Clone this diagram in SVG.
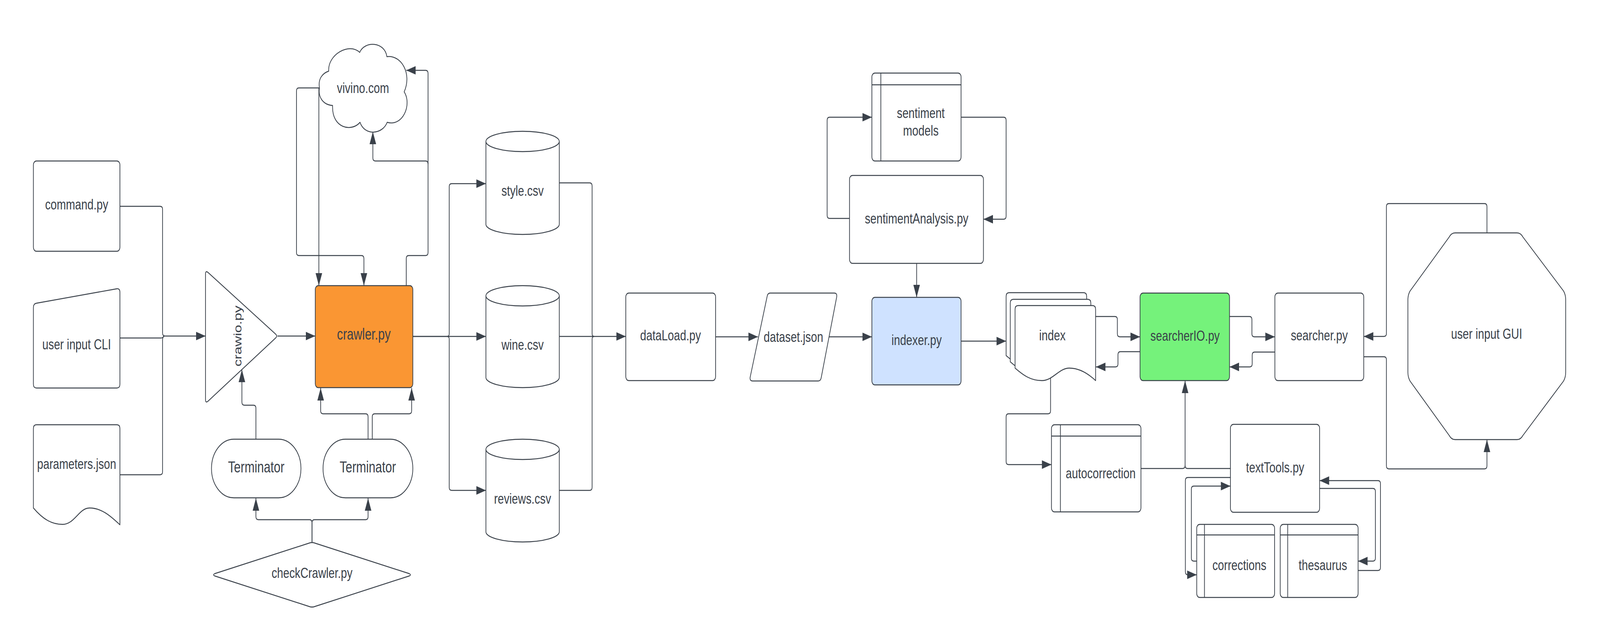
<svg xmlns="http://www.w3.org/2000/svg" width="5364" height="1643" viewBox="0 0 5364 1643" preserveAspectRatio="none">
<defs>
<style>
svg{width:100vw;height:100vh}
.n{fill:#ffffff;stroke:#3a414a;stroke-width:2.4;stroke-linejoin:round}
.l{fill:none;stroke:#3a414a;stroke-width:2.4}
.c{fill:none;stroke:#3a414a;stroke-width:2.4;stroke-linejoin:round}
.a{marker-end:url(#ah)}
text{font-family:"Liberation Sans",Arial,sans-serif;font-size:37px;fill:#3a414a;text-anchor:middle;dominant-baseline:central}
.big{font-size:40px}
</style>
<marker id="ah" markerUnits="userSpaceOnUse" markerWidth="34" markerHeight="24" refX="32" refY="11" orient="auto">
<path d="M0,0 L32,11 L0,22 Z" fill="#3a414a"/>
</marker>
</defs>
<rect width="5364" height="1643" fill="#ffffff"/>

<g id="connectors">
<path class="c a" d="M402,528 H537 Q545,528 545,536 V852 Q545,860 553,860 H689"/>
<path class="c" d="M402,865 H540 Q546,865 549,860"/>
<path class="c" d="M402,1215 H537 Q545,1215 545,1207 V870 Q545,862 551,860"/>
<path class="c a" d="M930,860 H1057"/>
<path class="c a" d="M858,1124 V1045 Q858,1037 850,1037 H819 Q811,1037 811,1029 V946"/>
<path class="c a" d="M1234,1124 V1067 Q1234,1059 1226,1059 H1083 Q1075,1059 1075,1051 V993"/>
<path class="c a" d="M1248,1124 V1067 Q1248,1059 1256,1059 H1372 Q1380,1059 1380,1051 V993"/>
<path class="c a" d="M1046,1388 V1338 Q1046,1330 1038,1330 H866 Q858,1330 858,1322 V1275"/>
<path class="c a" d="M1046,1388 V1338 Q1046,1330 1054,1330 H1226 Q1234,1330 1234,1322 V1275"/>
<path class="c a" d="M1071,225 H1002 Q994,225 994,233 V646 Q994,654 1002,654 H1212 Q1220,654 1220,662 V731"/>
<path class="c a" d="M1069,225 V731"/>
<path class="c a" d="M1362,731 V662 Q1362,654 1370,654 H1427 Q1435,654 1435,646 V188 Q1435,180 1427,180 H1362"/>
<path class="c a" d="M1435,420 Q1435,412 1427,412 H1258 Q1250,412 1250,404 V337"/>
<path class="c a" d="M1384,861 H1499 Q1506,861 1506,854 V478 Q1506,470 1514,470 H1629"/>
<path class="c a" d="M1384,861 H1629"/>
<path class="c a" d="M1499,861 Q1506,861 1506,868 V1247 Q1506,1255 1514,1255 H1629"/>
<path class="c a" d="M1875,468 H1977 Q1985,468 1985,476 V854 Q1985,861 1992,861 H2098"/>
<path class="c" d="M1875,861 H1992"/>
<path class="c" d="M1875,1255 H1977 Q1985,1255 1985,1247 V868 Q1985,861 1992,861"/>
<path class="c a" d="M2399,862 H2541"/>
<path class="c a" d="M2779,862 H2923"/>
<path class="c a" d="M3222,873 H3373"/>
<path class="c a" d="M3073,674 V761"/>
<path class="c a" d="M2848,559 H2781 Q2773,559 2773,551 V308 Q2773,300 2781,300 H2923"/>
<path class="c a" d="M3222,300 H3365 Q3373,300 3373,308 V553 Q3373,561 3365,561 H3297"/>
<path class="c a" d="M3673,810 H3738 Q3746,810 3746,818 V854 Q3746,862 3754,862 H3822"/>
<path class="c a" d="M3822,900 H3756 Q3748,900 3748,908 V931 Q3748,939 3740,939 H3674"/>
<path class="c a" d="M4122,810 H4189 Q4197,810 4197,818 V854 Q4197,862 4205,862 H4274"/>
<path class="c a" d="M4274,901 H4206 Q4198,901 4198,909 V931 Q4198,939 4190,939 H4122"/>
<path class="c a" d="M3522,967 V1051 Q3522,1059 3514,1059 H3381 Q3373,1059 3373,1067 V1181 Q3373,1189 3381,1189 H3525"/>
<path class="c a" d="M3825,1199 H3965 Q3973,1199 3973,1191 V974"/>
<path class="c" d="M4125,1199 H3981 Q3973,1199 3973,1191"/>
<path class="c a" d="M4125,1222 H3982 Q3974,1222 3974,1230 V1463 Q3974,1471 3982,1471 H4012"/>
<path class="c a" d="M4012,1436 H4002 Q3994,1436 3994,1428 V1252 Q3994,1244 4002,1244 H4125"/>
<path class="c a" d="M4424,1250 H4603 Q4611,1250 4611,1258 V1428 Q4611,1436 4603,1436 H4553"/>
<path class="c a" d="M4553,1460 H4620 Q4628,1460 4628,1452 V1238 Q4628,1230 4620,1230 H4424"/>
<path class="c a" d="M4985,596 V529 Q4985,521 4977,521 H4656 Q4648,521 4648,529 V853 Q4648,861 4640,861 H4572"/>
<path class="c a" d="M4572,913 H4640 Q4648,913 4648,921 V1192 Q4648,1200 4656,1200 H4977 Q4985,1200 4985,1192 V1125"/>
</g>

<g id="command">
<rect class="n" x="112" y="412" width="290" height="231" rx="10"/>
<text x="257" y="523">command.py</text>
</g>
<g id="user-input-cli">
<path class="n" d="M112,787 Q112,777 122,776 L392,739 Q402,738 402,748 V983 Q402,993 392,993 H122 Q112,993 112,983 Z"/>
<text x="257" y="881">user input CLI</text>
</g>
<g id="parameters">
<path class="n" d="M112,1300 V1097 Q112,1087 122,1087 H392 Q402,1087 402,1097 V1343 C370,1320 340,1300 300,1300 C265,1300 250,1342 210,1342 C175,1342 145,1330 112,1300 Z"/>
<text x="257" y="1187">parameters.json</text>
</g>
<g id="crawio">
<path class="n" d="M689,701 Q689,692 697,697 L924,855 Q931,860 924,865 L697,1027 Q689,1032 689,1023 Z"/>
<text x="797" y="860" transform="rotate(-90 797 860)">crawio.py</text>
</g>
<g id="vivino">
<path class="n" d="M1071,225 C1066,202 1080,188 1102,182 C1098,140 1170,108 1206,134 C1222,104 1290,106 1297,145 C1345,140 1382,188 1355,235 C1382,268 1350,325 1298,313 C1282,345 1222,348 1207,313 C1180,338 1112,330 1115,270 C1082,268 1066,248 1071,225 Z"/>
<text x="1217" y="225">vivino.com</text>
</g>
<g id="crawler">
<rect class="n" x="1057" y="731" width="327" height="261" rx="10" style="fill:#fa9633"/>
<text class="big" x="1220" y="856">crawler.py</text>
</g>
<g id="terminator-1">
<rect class="n" x="709" y="1124" width="300" height="150" rx="75" ry="75"/>
<text class="big" x="859" y="1196">Terminator</text>
</g>
<g id="terminator-2">
<rect class="n" x="1083" y="1124" width="301" height="150" rx="75" ry="75"/>
<text class="big" x="1233" y="1196">Terminator</text>
</g>
<g id="checkCrawler">
<path class="n" d="M720,1468 L1040,1389 Q1046,1388 1052,1389 L1372,1468 Q1380,1471 1372,1474 L1052,1553 Q1046,1554 1040,1553 L720,1474 Q712,1471 720,1468 Z"/>
<text x="1046" y="1466">checkCrawler.py</text>
</g>
<g id="style-csv">
<path class="n" d="M1629,362 A123,26 0 0 1 1875,362 V574 A123,26 0 0 1 1629,574 Z"/>
<path class="l" d="M1629,362 A123,26 0 0 0 1875,362"/>
<text x="1752" y="488">style.csv</text>
</g>
<g id="wine-csv">
<path class="n" d="M1629,757 A123,26 0 0 1 1875,757 V966 A123,26 0 0 1 1629,966 Z"/>
<path class="l" d="M1629,757 A123,26 0 0 0 1875,757"/>
<text x="1752" y="882">wine.csv</text>
</g>
<g id="reviews-csv">
<path class="n" d="M1629,1150 A123,26 0 0 1 1875,1150 V1361 A123,26 0 0 1 1629,1361 Z"/>
<path class="l" d="M1629,1150 A123,26 0 0 0 1875,1150"/>
<text x="1752" y="1276">reviews.csv</text>
</g>
<g id="dataLoad">
<rect class="n" x="2098" y="750" width="301" height="224" rx="10"/>
<text x="2248" y="858">dataLoad.py</text>
</g>
<g id="dataset">
<path class="n" d="M2572,758 Q2574,750 2582,750 H2797 Q2807,750 2805,760 L2753,967 Q2751,975 2743,975 H2523 Q2513,975 2515,965 Z"/>
<text x="2660" y="862">dataset.json</text>
</g>
<g id="sentiment-models">
<rect class="n" x="2923" y="187" width="299" height="225" rx="10"/>
<path class="l" d="M2953,187 V412 M2923,217 H3222"/>
<text x="3087" y="289">sentiment</text>
<text x="3087" y="334">models</text>
</g>
<g id="sentimentAnalysis">
<rect class="n" x="2848" y="449" width="449" height="225" rx="10"/>
<text x="3073" y="559">sentimentAnalysis.py</text>
</g>
<g id="indexer">
<rect class="n" x="2923" y="761" width="299" height="224" rx="10" style="fill:#cfe2ff"/>
<text x="3073" y="870">indexer.py</text>
</g>
<g id="index">
<path class="n" d="M3373,910 V759 Q3373,749 3383,749 H3633 Q3643,749 3643,759 V941 C3611,918 3581,910 3555,910 C3520,910 3500,941 3463,941 C3425,941 3400,928 3373,910 Z"/>
<path class="n" d="M3387,926 V776 Q3387,766 3397,766 H3647 Q3657,766 3657,776 V958 C3625,935 3595,926 3569,926 C3534,926 3514,958 3477,958 C3439,958 3414,944 3387,926 Z"/>
<path class="n" d="M3403,942 V792 Q3403,782 3413,782 H3663 Q3673,782 3673,792 V974 C3641,951 3611,942 3585,942 C3550,942 3530,974 3493,974 C3455,974 3430,960 3403,942 Z"/>
<text x="3528" y="858">index</text>
</g>
<g id="searcherIO">
<rect class="n" x="3822" y="750" width="300" height="224" rx="10" style="fill:#75f27b"/>
<text x="3973" y="859">searcherIO.py</text>
</g>
<g id="searcher">
<rect class="n" x="4274" y="750" width="298" height="224" rx="10"/>
<text x="4423" y="858">searcher.py</text>
</g>
<g id="user-input-gui">
<path class="n" d="M4878,596 H5086 Q5098,596 5105,606 L5242,745 Q5249,755 5249,767 V953 Q5249,965 5242,975 L5105,1115 Q5098,1125 5086,1125 H4878 Q4866,1125 4859,1115 L4727,975 Q4720,965 4720,953 V767 Q4720,755 4727,745 L4859,606 Q4866,596 4878,596 Z"/>
<text x="4984" y="854">user input GUI</text>
</g>
<g id="autocorrection">
<rect class="n" x="3525" y="1087" width="300" height="223" rx="10"/>
<path class="l" d="M3555,1087 V1310 M3525,1116 H3825"/>
<text x="3690" y="1211">autocorrection</text>
</g>
<g id="textTools">
<rect class="n" x="4125" y="1086" width="299" height="225" rx="10"/>
<text x="4275" y="1196">textTools.py</text>
</g>
<g id="corrections">
<rect class="n" x="4012" y="1342" width="261" height="187" rx="10"/>
<path class="l" d="M4038,1342 V1529 M4012,1369 H4273"/>
<text x="4155" y="1446">corrections</text>
</g>
<g id="thesaurus">
<rect class="n" x="4292" y="1342" width="261" height="187" rx="10"/>
<path class="l" d="M4317,1342 V1529 M4292,1369 H4553"/>
<text x="4435" y="1446">thesaurus</text>
</g>
</svg>
